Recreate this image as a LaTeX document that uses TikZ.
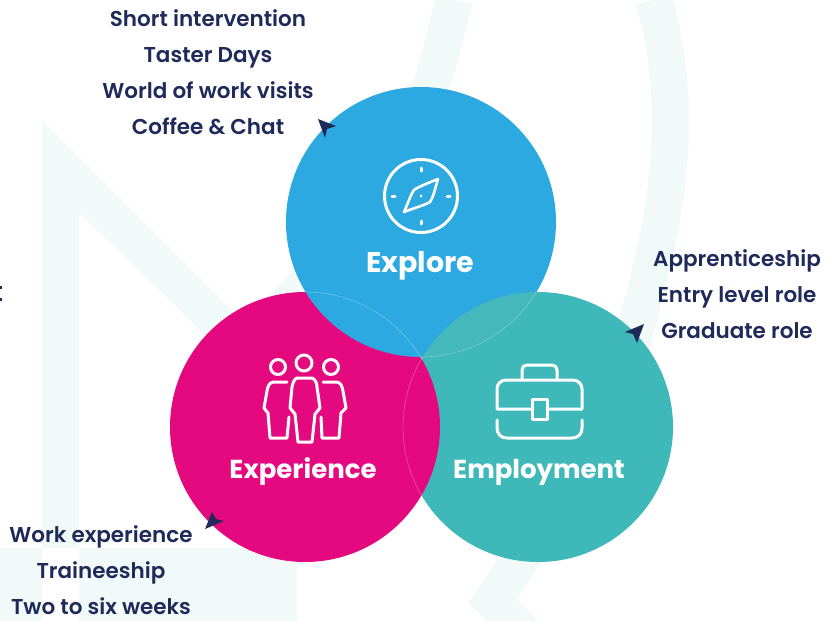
\documentclass[tikz,border=0pt]{standalone}
\usepackage{fontspec}
\setmainfont{Poppins}
\newfontfamily\itemfont{Poppins SemiBold}
\newfontfamily\headfont{Poppins Bold}
\usetikzlibrary{arrows.meta}
\definecolor{navy}{HTML}{1F2A5A}
\definecolor{bluec}{HTML}{2DA9E1}
\definecolor{pinkc}{HTML}{E5097F}
\definecolor{tealc}{HTML}{3FB8BA}
\definecolor{lensc}{HTML}{45B8BC}
\definecolor{wash}{HTML}{F1FAF9}
\tikzset{
 item/.style={text=navy,font=\itemfont\fontsize{21.5}{21.5}\selectfont,inner sep=0pt,anchor=center,text height=15pt,text depth=0pt},
 head/.style={text=white,font=\headfont\fontsize{26}{26}\selectfont,inner sep=0pt,anchor=center,text height=20pt,text depth=0pt},
 icon/.style={draw=white,line width=3pt,line cap=round,line join=round},
 thin edge/.style={line width=0.35pt,draw=white,opacity=.45},
 wash line/.style={draw=wash,line width=37pt},
 pointer/.style={fill=navy,draw=none}
}
\begin{document}
\begin{tikzpicture}[x=1pt,y=-1pt]
\useasboundingbox (0,0) rectangle (835,621);
\fill[white] (0,0) rectangle (835,621);
% background watermark
\fill[wash] (42,120) -- (232,310) -- (205,335) -- (79,212) -- (79,548) -- (42,548) -- cycle;
\fill[wash] (0,548) rectangle (42,621);
\fill[wash] (79,548) rectangle (297,621);
\fill[wash] (268,296) -- (296,268) -- (300,300) -- cycle;
\draw[wash line] (454,0) .. controls (446,35) and (438,65) .. (425,105);
\draw[wash line] (654,0) .. controls (668,50) and (672,100) .. (670,140) .. controls (668,200) and (655,265) .. (625,365);
\fill[wash] (508,545) -- (552,545) -- (517,600) -- (538,621) -- (487,621) -- (468,603) -- cycle;
% circles
\node[circle,fill=tealc,minimum size=270pt,inner sep=0pt] (emp) at (538,427) {};
\node[circle,fill=pinkc,minimum size=270pt,inner sep=0pt] (exp) at (305,427) {};
\node[circle,fill=bluec,minimum size=270pt,inner sep=0pt] (exl) at (421,222) {};
\begin{scope}
\clip (421,222) circle (135);
\fill[lensc] (538,427) circle (135);
\end{scope}
\begin{scope}
\clip (538,427) circle (135);
\draw[thin edge] (421,222) circle (135);
\end{scope}
\begin{scope}
\clip (421,222) circle (135);
\draw[thin edge] (305,427) circle (135);
\end{scope}
\begin{scope}
\clip (305,427) circle (135);
\draw[thin edge] (538,427) circle (135);
\end{scope}
% compass
\draw[icon] (421,196) circle (36.5);
\draw[icon] (421,168) -- (421,171) (421,221) -- (421,224) (392,196) -- (395,196) (447,196) -- (450,196);
\draw[icon,line width=2.6pt] (438,179) .. controls (428,183) and (418,187) .. (414,190) .. controls (411,194) and (408,203) .. (404,212) .. controls (414,208) and (425,205) .. (430,202) .. controls (433,198) and (435,189) .. (438,179) -- cycle;
\fill[white] (421,196) circle (1.5);
% people
\draw[icon] (304,363) circle (8) (278,367) circle (7.5) (331,367) circle (7.5);
\draw[icon] (287,382) -- (273,382) .. controls (269,383) and (268,386) .. (267,391) -- (264,408) -- (268,413) -- (270,438) -- (287,438) -- (289,417);
\draw[icon] (323,382) -- (337,382) .. controls (341,383) and (342,386) .. (343,391) -- (346,408) -- (341,413) -- (339,438) -- (322,438) -- (321,417);
\draw[icon] (297,378) -- (312,378) .. controls (315,379) and (317,383) .. (317,387) -- (320,408) -- (315,414) -- (312,442) -- (298,442) -- (295,414) -- (290,408) -- (292,387) .. controls (293,383) and (294,379) .. (297,378) -- cycle;
% briefcase
\draw[icon] (522,380) -- (522,370) .. controls (522,367) and (524,365) .. (527,365) -- (552,365) .. controls (555,365) and (557,367) .. (557,370) -- (557,380);
\draw[icon] (532,409) -- (497,409) -- (497,389) .. controls (497,384) and (501,380) .. (506,380) -- (573,380) .. controls (578,380) and (582,384) .. (582,389) -- (582,409) -- (547,409);
\draw[icon] (532,399) rectangle (547,419);
\draw[icon] (497,420) -- (497,428) .. controls (497,434) and (501,438) .. (507,438) -- (572,438) .. controls (578,438) and (582,434) .. (582,428) -- (582,420);
% headings
\node[head,font=\headfont\fontsize{28.5}{28.5}\selectfont] (t1) at (420,262) {Explore};
\node[head] (t2) at (303,468) {Experience};
\node[head] (t3) at (539,468) {Employment};
% lists
\node[item] (a1) at (208,19) {Short intervention};
\node[item] (a2) at (208,55) {Taster Days};
\node[item] (a3) at (208,91) {World of work visits};
\node[item] (a4) at (208,127) {Coffee \& Chat};
\node[item] (b1) at (737,259) {Apprenticeship};
\node[item] (b2) at (737,295) {Entry level role};
\node[item] (b3) at (737,331) {Graduate role};
\node[item] (c1) at (101,535) {Work experience};
\node[item] (c2) at (101,571) {Traineeship};
\node[item] (c3) at (101,607) {Two to six weeks};
% pointers
\fill[pointer] (318,119) -- (336,126) -- (327,129) -- (325,138) -- cycle;
\fill[pointer] (644,324) -- (637,343) -- (633,334) -- (625,332) -- cycle;
\fill[pointer] (205,529) -- (212,512) -- (216,519) -- (224,521) -- cycle;
% stray marks at left edge
\fill[navy] (0,286) rectangle (2,289);
\fill[navy] (0,298) rectangle (2,301);
\end{tikzpicture}
\end{document}
